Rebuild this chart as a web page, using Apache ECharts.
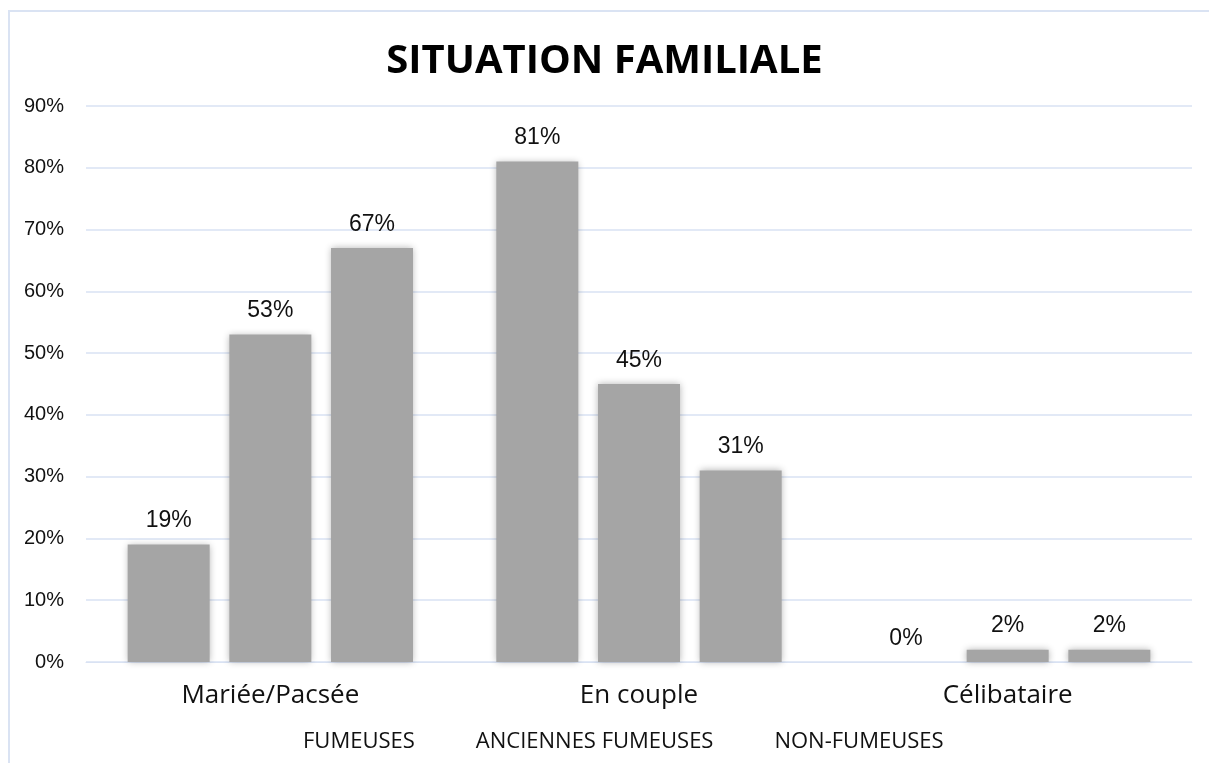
<!DOCTYPE html>
<html>
<head>
<meta charset="utf-8">
<script src="https://cdn.jsdelivr.net/npm/echarts@6/dist/echarts.min.js"></script>
<style>
    html, body { margin: 0; padding: 0; background: #fff; }
    #frame { position: absolute; left: 8px; top: 10px; right: 0; bottom: 0;
             border-left: 2px solid #dae3f3; border-top: 2px solid #dae3f3; }
    #chart { position: absolute; left: 0; top: 0; width: 1209px; height: 763px; }
</style>
</head>
<body>
<div id="frame"></div>
<div id="chart"></div>
<script>
    "use strict";

    var categories = ['Mariée/Pacsée', 'En couple', 'Célibataire'];
    var fumeuses = [19, 81, 0];
    var anciennesFumeuses = [53, 45, 2];
    var nonFumeuses = [67, 31, 2];
    var yTicks = [0, 10, 20, 30, 40, 50, 60, 70, 80, 90];

    var chart = echarts.init(document.getElementById('chart'));

    // shared bar look
    function barSeries(name, data) {
        return {
            name: name,
            type: 'bar',
            data: data,
            barWidth: 82,
            barGap: '24%',
            itemStyle: {
                color: '#a5a5a5',
                shadowColor: 'rgba(0,0,0,0.3)',
                shadowBlur: 7
            },
            label: {
                show: true,
                position: 'top',
                distance: 12,
                formatter: '{c}%',
                color: '#111',
                fontSize: 23,
                fontFamily: 'Liberation Sans'
            }
        };
    }

    var option = {
        animation: false,
        title: {
            text: 'SITUATION FAMILIALE',
            left: 'center',
            top: 37,
            textStyle: {
                fontFamily: 'Open Sans',
                fontWeight: 'bold',
                fontSize: 40,
                color: '#000'
            }
        },
        legend: {
            bottom: 5,
            left: 293,
            itemWidth: 0,
            itemHeight: 0,
            itemGap: 56,
            data: ['FUMEUSES', 'ANCIENNES FUMEUSES', 'NON-FUMEUSES'],
            textStyle: { fontFamily: 'Open Sans', fontSize: 22, color: '#111' }
        },
        grid: { left: 86, right: 17, top: 106, bottom: 101 },
        xAxis: {
            type: 'category',
            data: categories,
            axisLine: { show: true, lineStyle: { color: '#d9e2f3' } },
            axisTick: { show: false },
            axisLabel: {
                margin: 21,
                fontFamily: 'Open Sans',
                fontSize: 26,
                color: '#111'
            }
        },
        yAxis: {
            type: 'value',
            min: yTicks[0],
            max: yTicks[yTicks.length - 1],
            interval: 10,
            axisLine: { show: false },
            axisTick: { show: false },
            splitLine: { lineStyle: { color: '#d9e2f3', width: 1.5 } },
            axisLabel: {
                formatter: '{value}%',
                margin: 22,
                fontFamily: 'Liberation Sans',
                fontSize: 20,
                color: '#111'
            }
        },
        series: [
            barSeries('FUMEUSES', fumeuses),
            barSeries('ANCIENNES FUMEUSES', anciennesFumeuses),
            barSeries('NON-FUMEUSES', nonFumeuses)
        ]
    };

    chart.setOption(option);
</script>
</body>
</html>
